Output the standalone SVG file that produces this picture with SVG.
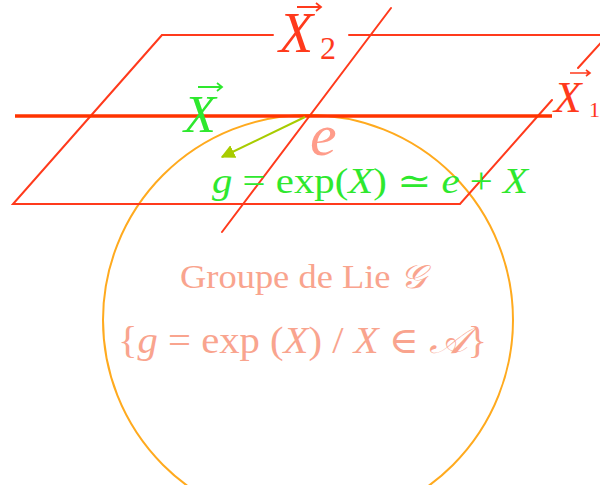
<svg xmlns="http://www.w3.org/2000/svg" width="600" height="485" viewBox="0 0 600 485">
<defs>
<style>
.red{stroke:#ff3a1c;stroke-width:2;fill:none;stroke-linecap:round}
.thick{stroke:#ff3300;stroke-width:3.5;fill:none}
.circ{stroke:#ffaa1e;stroke-width:2;fill:none}
.m{font-family:"Liberation Serif","DejaVu Serif",serif}
.i{font-style:italic}
.rt{fill:#ff3a1c}
.gt{fill:#2ee82e}
.st{fill:#f9a48e}
</style>
<marker id="ah" viewBox="0 0 10 10" refX="9" refY="5" markerWidth="7" markerHeight="7" orient="auto" markerUnits="strokeWidth">
<path d="M0,0 L10,5 L0,10 z" fill="#a8cc00"/>
</marker>
</defs>
<rect width="600" height="485" fill="#ffffff"/>
<g id="connectors">
<circle class="circ" cx="308" cy="320" r="205"/>
<path class="red" d="M162,35 L273,35 M349,35 L600,35 M162,35 L13,204 L460,204 L552,100 M578,68 L607,36"/>
<path class="red" d="M222,232 L391,8"/>
<path class="thick" d="M15,116 L552,116"/>
<line x1="305" y1="117" x2="222" y2="157" stroke="#a8cc00" stroke-width="2" marker-end="url(#ah)"/>
</g>
<g id="label-X2">
<text class="m i rt" x="279" y="52" font-size="56">X</text>
<text class="m rt" x="320" y="59" font-size="32">2</text>
<path d="M297,7 L321,7 M316,3 L321,7 L316,11" stroke="#ff3a1c" stroke-width="1.8" fill="none"/>
</g>
<g id="label-X1">
<text class="m i rt" x="554" y="112" font-size="45">X</text>
<text class="m rt" x="589" y="117" font-size="22">1</text>
<path d="M570,73 L590,73 M586,70 L590,73 L586,76" stroke="#ff3a1c" stroke-width="1.6" fill="none"/>
</g>
<g id="label-X">
<text class="m i gt" x="184" y="132" font-size="52">X</text>
<path d="M198,87 L222,87 M217,83 L222,87 L217,91" stroke="#2ee82e" stroke-width="1.8" fill="none"/>
</g>
<g id="label-e">
<text class="m i" x="310" y="155" font-size="60" fill="#ff9c8a">e</text>
</g>
<g id="formula">
<text class="m gt" x="212" y="193" font-size="35" textLength="316" lengthAdjust="spacingAndGlyphs"><tspan class="i">g</tspan> = exp(<tspan class="i">X</tspan>) ≃ <tspan class="i">e</tspan> + <tspan class="i">X</tspan></text>
</g>
<g id="group-label">
<text class="m st" x="180" y="288" font-size="33" textLength="245" lengthAdjust="spacingAndGlyphs">Groupe de Lie <tspan class="i">𝒢</tspan></text>
<text class="m st" x="118" y="353" font-size="37" textLength="369" lengthAdjust="spacingAndGlyphs">{<tspan class="i">g</tspan> = exp (<tspan class="i">X</tspan>)  / <tspan class="i">X</tspan> ∈ <tspan class="i">𝒜</tspan>}</text>
</g>
</svg>
